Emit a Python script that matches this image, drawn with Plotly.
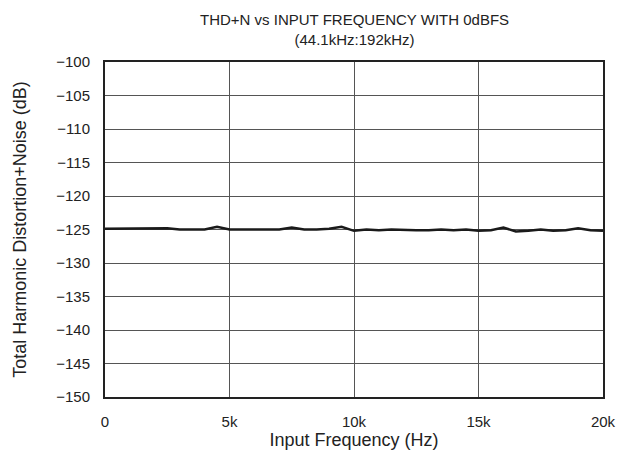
"""THD+N vs input frequency at 0dBFS (44.1kHz:192kHz)."""

import plotly.graph_objects as go

# input frequency (Hz), 500 Hz steps
freq_hz = [i * 500 for i in range(41)]

# THD+N (dB)
thdn_db = [
    -124.9, -124.9, -124.9, -124.9, -124.9, -124.8, -125.0, -125.0, -125.0, -124.6,
    -125.0, -125.0, -125.0, -125.0, -125.0, -124.7, -125.0, -125.0, -124.9, -124.6,
    -125.2, -125.0, -125.1, -125.0, -125.1, -125.1, -125.1, -125.0, -125.1, -125.0,
    -125.2, -125.1, -124.7, -125.3, -125.2, -125.0, -125.2, -125.1, -124.8, -125.1,
    -125.2,
]

y_ticks = list(range(-150, -99, 5))
x_ticks = [0, 5000, 10000, 15000, 20000]
x_labels = ["0", "5k", "10k", "15k", "20k"]

fig = go.Figure()
fig.add_trace(
    go.Scatter(
        x=freq_hz,
        y=thdn_db,
        mode="lines",
        line=dict(color="#1a1a1a", width=2.5),
        showlegend=False,
    )
)

# two-line title as a paper annotation so nothing is clipped
fig.add_annotation(
    text="THD+N vs INPUT FREQUENCY WITH 0dBFS<br>(44.1kHz:192kHz)",
    xref="paper", yref="paper",
    x=0.5, y=1, xanchor="center", yanchor="bottom",
    yshift=12, showarrow=False,
    font=dict(size=15),
)

# page body has an 8px margin, so the figure is a bit smaller than the window
fig.update_layout(
    width=612,
    height=451,
    margin=dict(l=97, r=17, t=54, b=62, autoexpand=False),
    paper_bgcolor="white",
    plot_bgcolor="white",
    font=dict(family="Liberation Sans, Arial, sans-serif", size=15, color="#222"),
    xaxis=dict(
        range=[0, 20000],
        tickvals=x_ticks,
        ticktext=x_labels,
        showgrid=True,
        gridcolor="#555",
        gridwidth=1,
        showline=True,
        linecolor="#222",
        linewidth=2,
        mirror=True,
        ticks="",
        ticklabelstandoff=10,
        zeroline=False,
        automargin=False,
        title=dict(text="Input Frequency (Hz)", standoff=4),
    ),
    yaxis=dict(
        range=[-150, -100],
        tickvals=y_ticks,
        showgrid=True,
        gridcolor="#555",
        gridwidth=1,
        showline=True,
        linecolor="#222",
        linewidth=2,
        mirror=True,
        ticks="",
        ticklabelstandoff=10,
        zeroline=False,
        automargin=False,
        title=dict(text="Total Harmonic Distortion+Noise (dB)", standoff=25),
    ),
)

fig.write_html("out.html")
